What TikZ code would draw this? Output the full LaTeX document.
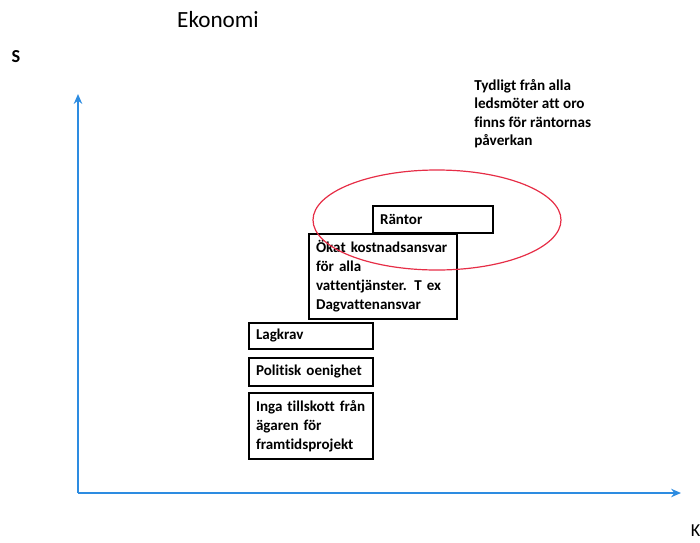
\documentclass[tikz,border=0pt]{standalone}
\usepackage{fontspec}
\setmainfont{Carlito}[Ligatures=NoCommon]
\usetikzlibrary{arrows.meta}
\definecolor{axisblue}{RGB}{45,140,225}
\definecolor{ringred}{RGB}{230,45,70}
\tikzset{
	box/.style={draw, line width=0.5mm, anchor=north west, align=left, inner xsep=5pt, inner ysep=0pt, font=\fontsize{10.7}{13.5}\selectfont\bfseries},
	axis/.style={line width=0.5mm, color=axisblue, -{Stealth[length=7pt, width=6pt]}}
}

\begin{document}
\begin{tikzpicture}[x=0.025cm, y=-0.025cm]
		%%%%% START %%%%%
		\useasboundingbox (0, 0) rectangle (700, 542);
		
		\node[font=\fontsize{16.5}{18}\selectfont] (title) at (218, 20) {Ekonomi};
		\node[font=\fontsize{13}{15}\selectfont\bfseries] (ylabel) at (16, 57) {S};
		\node[font=\fontsize{13}{15}\selectfont, anchor=west] (xlabel) at (686, 531) {K};
		
		\coordinate (origin) at (78, 493);
		\coordinate (ytip) at (78, 94);
		\coordinate (xtip) at (681, 493);
		\draw[axis] (origin) -- (ytip);
		\draw[axis] (origin) -- (xtip);
		
		\node[anchor=north west, align=left, inner sep=0pt, font=\fontsize{10.8}{13.2}\selectfont\bfseries] (note) at (474, 79)
			{Tydligt från alla\\ledsmöter att oro\\finns för räntornas\\påverkan};
		
		\node[box, text width=75pt, minimum height=19.1pt] (rantor) at (372, 205) {Räntor};
		\node[box, text width=95pt, minimum height=60.2pt] (okat) at (308, 233)
			{Ökat kostnadsansvar\\för alla\\vattentjänster. T ex\\Dagvattenansvar};
		\node[box, text width=78pt, minimum height=18.4pt] (lagkrav) at (248, 322) {Lagkrav};
		\node[box, text width=78pt, minimum height=19.8pt] (oenighet) at (248, 357) {Politisk oenighet};
		\node[box, text width=78pt, minimum height=46.8pt] (tillskott) at (248, 392)
			{Inga tillskott från\\ägaren för\\framtidsprojekt};
		
		\draw[line width=0.3mm, color=ringred] (437, 220) ellipse [x radius=124, y radius=50];
		
		%%%%% END %%%%%
	\end{tikzpicture}
\end{document}
